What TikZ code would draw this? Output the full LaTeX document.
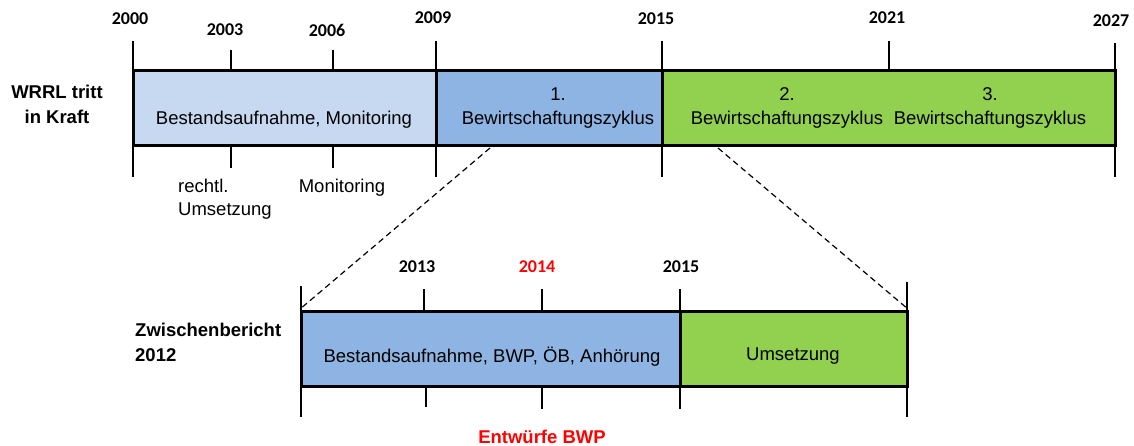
\documentclass[tikz,border=0pt]{standalone}
\usepackage{fontspec}
\setmainfont{Liberation Sans}
\newfontfamily\yearfont{Carlito}
\definecolor{lblue}{HTML}{C6D9F1}
\definecolor{mblue}{HTML}{8DB4E2}
\definecolor{lgreen}{HTML}{92D050}
\definecolor{rred}{HTML}{FF0000}
\tikzset{
  seg/.style={draw=black, line width=3pt, inner sep=0pt, minimum height=75pt},
  txt/.style={font=\fontsize{18.5}{23.5}\selectfont, align=center, inner sep=0pt},
  yr/.style={font=\yearfont\bfseries\fontsize{18}{20}\selectfont, inner sep=0pt},
  lbl/.style={font=\bfseries\fontsize{18.5}{25}\selectfont, inner sep=0pt},
  tick/.style={line width=2.6pt},
  zoomline/.style={line width=1.2pt, dash pattern=on 6pt off 4pt}
}
\begin{document}
\begin{tikzpicture}[x=1pt, y=-1pt]
\useasboundingbox (0,0) rectangle (1134,446);
% ---------- top timeline ----------
\node[seg, fill=lblue, minimum width=303pt] (s1) at (284.5,108.5) {};
\node[seg, fill=mblue, minimum width=226pt] (s2) at (549,108.5) {};
\node[seg, fill=lgreen, minimum width=453pt] (s3) at (888.5,108.5) {};
% ticks
\draw[tick] (133,41) -- (133,177);
\draw[tick] (436,41) -- (436,177);
\draw[tick] (662,41) -- (662,177);
\draw[tick] (1115,43) -- (1115,177);
\draw[tick] (231,50) -- (231,71);
\draw[tick] (231,146) -- (231,168);
\draw[tick] (333,50) -- (333,71);
\draw[tick] (333,146) -- (333,168);
\draw[tick] (889,41) -- (889,71);
% years
\node[yr] (y2000) at (130,19) {2000};
\node[yr] (y2003) at (225,30) {2003};
\node[yr] (y2006) at (327,30) {2006};
\node[yr] (y2009) at (433,18) {2009};
\node[yr] (y2015) at (656,19) {2015};
\node[yr] (y2021) at (887,18) {2021};
\node[yr] (y2027) at (1111,21) {2027};
% texts
\node[txt] (t1) at (284,120) {Bestandsaufnahme, Monitoring};
\node[txt] (t2) at (558,108) {1.\\Bewirtschaftungszyklus};
\node[txt] (t3) at (787,108) {2.\\Bewirtschaftungszyklus};
\node[txt] (t4) at (990,108) {3.\\Bewirtschaftungszyklus};
\node[lbl, align=center] (wrrl) at (57,104) {WRRL tritt\\in Kraft};
\node[txt, align=left, anchor=west] (recht) at (178,199) {rechtl.\\Umsetzung};
\node[txt] (moni) at (342,188) {Monitoring};
% ---------- lower timeline ----------
\node[seg, fill=mblue, minimum width=379pt] (l1) at (490.5,348.5) {};
\node[seg, fill=lgreen, minimum width=227pt] (l2) at (793.5,348.5) {};
\draw[tick] (301,286) -- (301,417);
\draw[tick] (680,289) -- (680,409);
\draw[tick] (907,282) -- (907,417);
\draw[tick] (424,289) -- (424,311);
\draw[tick] (426,386) -- (426,407);
\draw[tick] (542,289) -- (542,311);
\draw[tick] (542,386) -- (542,409);
\node[yr] (y2013) at (417,267) {2013};
\node[yr, text=rred] (y2014) at (537,267) {2014};
\node[yr] (y2015b) at (681,267) {2015};
\node[txt] (t5) at (492,357) {Bestandsaufnahme, BWP, ÖB, Anhörung};
\node[txt] (t6) at (793,356) {Umsetzung};
\node[lbl, align=left, anchor=west] (zwb) at (135,342) {Zwischenbericht\\2012};
\node[lbl, text=rred] (entw) at (542,437) {Entwürfe BWP};
% ---------- zoom lines ----------
\coordinate (z1) at (490,148);
\coordinate (z2) at (718,148);
\draw[zoomline] (z1) -- (l1.north west);
\draw[zoomline] (z2) -- (l2.north east);
\end{tikzpicture}
\end{document}
